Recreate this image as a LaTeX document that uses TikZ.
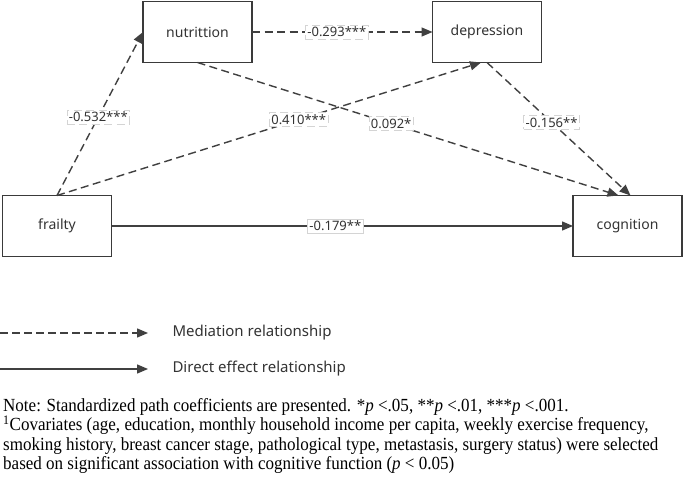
\documentclass[tikz,border=0pt]{standalone}
\usepackage{fontspec}
\setmainfont{Liberation Serif}
\newfontfamily\diagfont{Noto Sans}
\newfontfamily\notefont[FakeStretch=0.92]{Liberation Serif}
\usetikzlibrary{arrows.meta}
\definecolor{linec}{HTML}{404040}
\definecolor{boxc}{HTML}{3A3A3A}
\definecolor{lblc}{HTML}{D4D4D4}
\definecolor{txtc}{HTML}{333333}
\tikzset{
  varbox/.style={draw=boxc, line width=1.9pt, minimum width=109pt, minimum height=61pt, outer sep=0pt, text=txtc, font=\diagfont\fontsize{14}{16}\selectfont},
  medline/.style={draw=linec, line width=1.4pt, dash pattern=on 8pt off 4.5pt, -{Triangle[length=11pt,width=9pt]}},
  dirline/.style={draw=linec, line width=1.4pt, -{Triangle[length=11pt,width=9pt]}},
  coef/.style={fill=white, draw=lblc, line width=0.6pt, inner sep=2pt, text=txtc, font=\diagfont\fontsize{13}{15}\selectfont},
  legtext/.style={anchor=west, text=txtc, font=\diagfont\fontsize{15}{17}\selectfont},
  noteline/.style={anchor=base west, inner sep=0pt, font=\notefont\fontsize{18.5}{19.5}\selectfont},
}
\begin{document}
\begin{tikzpicture}[x=1pt,y=-1pt]
\useasboundingbox[fill=white] (0,0) rectangle (685,497);
\node[varbox] (nut) at (197.5,32) {nutrittion};
\node[varbox] (dep) at (487,32) {depression};
\node[varbox] (fra) at (57,226) {frailty};
\node[varbox] (cog) at (627.5,226) {cognition};

\draw[medline] (fra.north) -- (nut.west) node[coef, pos=0.48] {-0.532***};
\draw[medline] (fra.north) -- ([xshift=-6pt]dep.south) node[coef, pos=0.57] {0.410***};
\draw[medline] (nut.east) -- (dep.west) node[coef, pos=0.47] {-0.293***};
\draw[medline] (nut.south) -- ([xshift=-9pt]cog.north) node[coef, pos=0.46] {0.092*};
\draw[medline] (dep.south) -- ([xshift=3pt]cog.north) node[coef, pos=0.45] {-0.156**};
\draw[dirline] (fra.east) -- (cog.west) node[coef, pos=0.485] {-0.179**};

\coordinate (m1) at (0,333);
\coordinate (m2) at (148,333);
\coordinate (d1) at (0,369);
\coordinate (d2) at (148,369);
\draw[medline, dash pattern=on 8pt off 4pt] (m1) -- (m2);
\draw[dirline] (d1) -- (d2);
\node[legtext] (mt) at (169,333) {Mediation relationship};
\node[legtext] (dt) at (169,369) {Direct effect relationship};

\node[noteline] (n1) at (3,411) {Note: Standardized path coefficients are presented. *\textit{p} <.05, **\textit{p} <.01, ***\textit{p} <.001.};
\node[noteline] (n2) at (3,430.5) {\textsuperscript{1}Covariates (age, education, monthly household income per capita, weekly exercise frequency,};
\node[noteline] (n3) at (3,450) {smoking history, breast cancer stage, pathological type, metastasis, surgery status) were selected};
\node[noteline] (n4) at (3,469.5) {based on significant association with cognitive function (\textit{p} < 0.05)};
\end{tikzpicture}
\end{document}
